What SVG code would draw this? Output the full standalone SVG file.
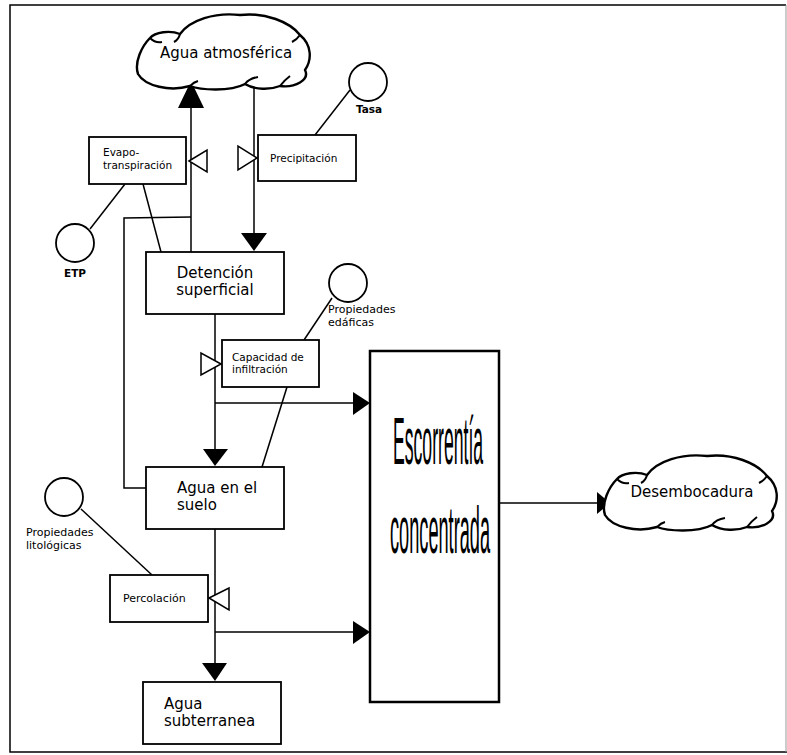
<svg xmlns="http://www.w3.org/2000/svg" width="787" height="755" viewBox="0 0 787 755">
<defs>
<style>
.bx{fill:#fff;stroke:#000;stroke-width:1.8}
.ln{fill:none;stroke:#000;stroke-width:1.5}
.cl{fill:#fff;stroke:#000;stroke-width:2.4;stroke-linejoin:round}
.cls{fill:none;stroke:#000;stroke-width:2}
.ah{fill:#000;stroke:none}
.ot{fill:#fff;stroke:#000;stroke-width:1.5}
.t16{font-family:"DejaVu Sans",Verdana,sans-serif;font-size:15px;fill:#000}
.t10{font-family:"DejaVu Sans",Verdana,sans-serif;font-size:10.5px;fill:#000}
.t11{font-family:"DejaVu Sans",Verdana,sans-serif;font-size:11px;fill:#000}
.big{font-family:"Liberation Sans",Arial,sans-serif;font-size:66px;fill:#000}
</style>
<path id="cloud" d="M 138,74 C 134,62 142,46 150,38 C 155,32 170,30 180,34 C 190,20 215,12 240,15 C 265,12 290,22 300,35 C 312,45 312,60 305,70 C 310,80 295,88 280,86 C 270,90 255,90 245,84 C 230,92 200,90 190,86 C 170,92 145,86 138,74 Z"/>
<path id="squig" d="M 150,38 C 154,42 157,43 162,42 M 180,34 C 179,38 178,40 174,42 M 300,35 C 298,38 296,40 292,42 M 245,84 C 248,80 252,78 258,77 M 190,86 C 193,83 194,82 198,81 M 280,86 C 283,82 286,79 290,76"/>
</defs>
<rect x="0" y="0" width="787" height="755" fill="#fff"/>
<path d="M 786,5 L 10,5 L 10,752 L 787,752" fill="none" stroke="#000" stroke-width="1.5"/>
<line x1="786" y1="5" x2="786" y2="752" stroke="#999" stroke-width="1"/>

<g id="connectors">
  <line class="ln" x1="191" y1="252" x2="191" y2="100"/>
  <polygon class="ah" points="191,81 178,108 204,108"/>
  <polygon class="ot" points="189,161 207,150 207,172"/>
  <line class="ln" x1="254" y1="88" x2="254" y2="240"/>
  <polygon class="ah" points="254,251 241,233 267,233"/>
  <polygon class="ot" points="257,158 238,146 238,170"/>
  <polyline class="ln" points="146,488 124,488 124,218 191,217"/>
  <line class="ln" x1="143" y1="184" x2="161" y2="252"/>
  <line class="ln" x1="125" y1="184" x2="90" y2="229"/>
  <line class="ln" x1="350" y1="90" x2="315" y2="135"/>
  <line class="ln" x1="332" y1="298" x2="304" y2="340"/>
  <line class="ln" x1="287" y1="387" x2="262" y2="467"/>
  <line class="ln" x1="81" y1="509" x2="152" y2="575"/>
  <line class="ln" x1="215" y1="314" x2="215" y2="455"/>
  <polygon class="ah" points="215,466 203,449 228,449"/>
  <polygon class="ot" points="221,364 201,353 201,375"/>
  <line class="ln" x1="215" y1="403" x2="358" y2="403"/>
  <polygon class="ah" points="370,403 353,392 353,415"/>
  <line class="ln" x1="215" y1="529" x2="215" y2="670"/>
  <polygon class="ah" points="215,681 202,663 227,663"/>
  <polygon class="ot" points="209,598 229,588 229,610"/>
  <line class="ln" x1="215" y1="632" x2="358" y2="632"/>
  <polygon class="ah" points="370,632 353,621 353,644"/>
  <line class="ln" x1="499" y1="503" x2="600" y2="503"/>
  <polygon class="ah" points="610,503 597,492 597,514"/>
</g>

<g id="agua-atmosferica">
  <use href="#cloud" class="cl"/>
  <use href="#squig" class="cls"/>
  <text class="t16" x="226" y="58" text-anchor="middle">Agua atmosférica</text>
</g>

<g id="tasa">
  <circle class="bx" cx="368" cy="82" r="19"/>
  <text class="t10" x="369" y="113" text-anchor="middle" font-weight="bold">Tasa</text>
</g>

<g id="evapotranspiracion">
  <rect class="bx" x="89" y="137" width="97" height="47"/>
  <text class="t10" x="103" y="156">Evapo-</text>
  <text class="t10" x="103" y="169">transpiración</text>
</g>

<g id="precipitacion">
  <rect class="bx" x="258" y="135" width="98" height="46"/>
  <text class="t10" x="270" y="162">Precipitación</text>
</g>

<g id="etp">
  <circle class="bx" cx="75" cy="243" r="19"/>
  <text class="t10" x="75" y="277" text-anchor="middle" font-weight="bold">ETP</text>
</g>

<g id="detencion">
  <rect class="bx" x="146" y="252" width="138" height="62"/>
  <text class="t16" x="215" y="278" text-anchor="middle">Detención</text>
  <text class="t16" x="215" y="295" text-anchor="middle">superficial</text>
</g>

<g id="propiedades-edaficas">
  <circle class="bx" cx="348" cy="283" r="19"/>
  <text class="t11" x="328" y="313">Propiedades</text>
  <text class="t11" x="328" y="326">edáficas</text>
</g>

<g id="capacidad-infiltracion">
  <rect class="bx" x="222" y="340" width="97" height="47"/>
  <text class="t10" x="232" y="361">Capacidad de</text>
  <text class="t10" x="232" y="373">infiltración</text>
</g>

<g id="agua-suelo">
  <rect class="bx" x="146" y="467" width="138" height="62"/>
  <text class="t16" x="177" y="493">Agua en el</text>
  <text class="t16" x="177" y="510">suelo</text>
</g>

<g id="propiedades-litologicas">
  <circle class="bx" cx="64" cy="497" r="19"/>
  <text class="t11" x="26" y="536">Propiedades</text>
  <text class="t11" x="26" y="549">litológicas</text>
</g>

<g id="percolacion">
  <rect class="bx" x="110" y="575" width="98" height="47"/>
  <text class="t11" x="123" y="602">Percolación</text>
</g>

<g id="agua-subterranea">
  <rect class="bx" x="143" y="682" width="138" height="62"/>
  <text class="t16" x="164" y="709">Agua</text>
  <text class="t16" x="164" y="726">subterranea</text>
</g>

<g id="escorrentia">
  <rect x="370" y="351" width="129" height="351" fill="#fff" stroke="#000" stroke-width="2.5"/>
  <text class="big" transform="translate(393,464) scale(0.267,1)">Escorrentía</text>
  <text class="big" transform="translate(390,553) scale(0.2755,1)">concentrada</text>
</g>

<g id="desembocadura">
  <use href="#cloud" class="cl" x="467" y="441"/>
  <use href="#squig" class="cls" x="467" y="441"/>
  <text class="t16" x="692" y="497" text-anchor="middle">Desembocadura</text>
</g>
</svg>
